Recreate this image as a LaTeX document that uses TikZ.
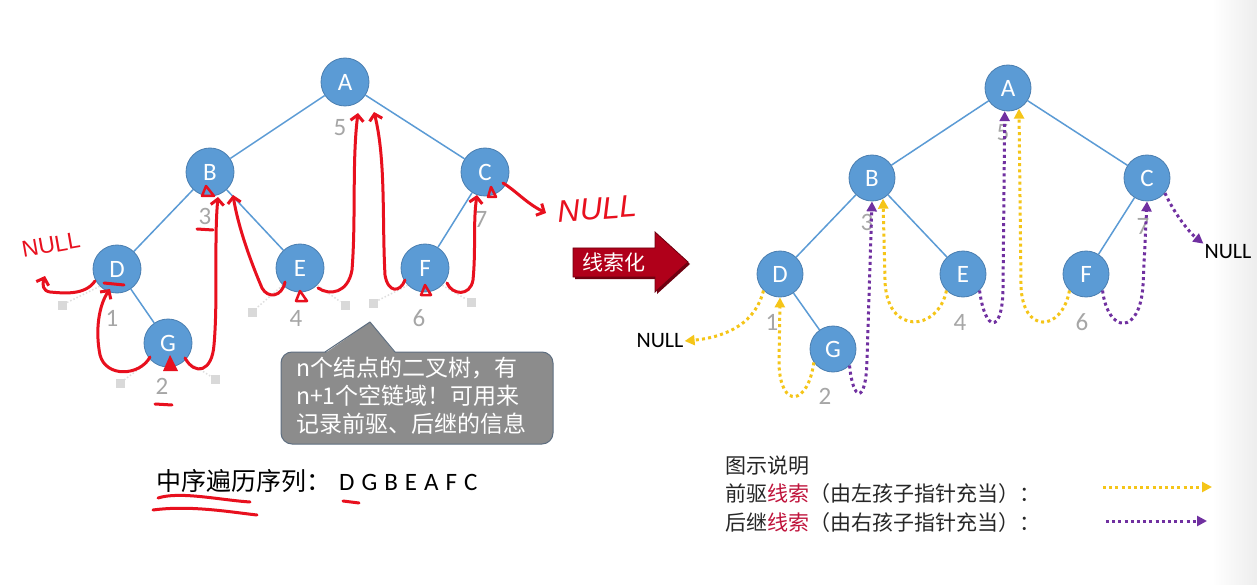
\documentclass[tikz,border=0pt]{standalone}
\usepackage{fontspec}
\setmainfont{Carlito}
\newfontfamily\cjk{Noto Sans CJK SC}
\newfontfamily\hand{Liberation Sans}
\usetikzlibrary{arrows.meta}
\definecolor{nodeblue}{HTML}{5B9BD5}
\definecolor{nodeedge}{HTML}{4A7EB0}
\definecolor{numgray}{HTML}{A6A6A6}
\definecolor{pen}{HTML}{E8101E}
\definecolor{predc}{HTML}{F5C518}
\definecolor{succc}{HTML}{7030A0}
\definecolor{bubblefill}{HTML}{8C8C8C}
\definecolor{bubbleedge}{HTML}{5E6E80}
\definecolor{arrowred}{HTML}{B0001A}
\definecolor{arrowdark}{HTML}{6E0010}
\definecolor{threadred}{HTML}{C0143C}
\definecolor{legtext}{HTML}{262626}
\begin{document}
\begin{tikzpicture}[x=1pt,y=-1pt,
  lnode/.style={circle,fill=nodeblue,draw=nodeedge,line width=0.8pt,minimum size=48pt,inner sep=0pt,text=white,font=\fontsize{25}{25}\selectfont},
  rnode/.style={circle,fill=nodeblue,draw=nodeedge,line width=0.8pt,minimum size=46pt,inner sep=0pt,text=white,font=\fontsize{25}{25}\selectfont},
  treeedge/.style={draw=nodeblue,line width=1.5pt},
  num/.style={text=numgray,font=\fontsize{25}{25}\selectfont,inner sep=0pt},
  stub/.style={rectangle,fill=gray!30,minimum size=9pt,inner sep=0pt},
  stubline/.style={draw=gray!25,line width=1.5pt,dash pattern=on 1.5pt off 2pt},
  penline/.style={draw=pen,line width=3pt,line cap=round,line join=round},
  penarrow/.style={penline,-{Straight Barb[length=6pt,width=13pt,line width=3pt]}},
  pred/.style={draw=predc,line width=3pt,dash pattern=on 3pt off 3.2pt,-{Triangle[length=10pt,width=10pt]}},
  succ/.style={draw=succc,line width=3pt,dash pattern=on 3pt off 3.2pt,-{Triangle[length=10pt,width=10pt]}},
  legfont/.style={font=\cjk\fontsize{21}{21}\selectfont,text=legtext,anchor=base west,inner sep=0pt}
]
\useasboundingbox (0,0) rectangle (1257,585);
\fill[white] (0,0) rectangle (1257,585);
\shade[left color=white,right color=gray!14] (1212,0) rectangle (1257,585);

% ---------- left tree ----------
\node[lnode] (lA) at (345,82) {A};
\node[lnode] (lB) at (210,172) {B};
\node[lnode] (lC) at (485,172) {C};
\node[lnode] (lD) at (117,269) {D};
\node[lnode] (lE) at (300,268) {E};
\node[lnode] (lF) at (425,268) {F};
\node[lnode] (lG) at (168,343) {G};
\draw[treeedge] (lA) -- (lB);
\draw[treeedge] (lA) -- (lC);
\draw[treeedge] (lB) -- (lD);
\draw[treeedge] (lB) -- (lE);
\draw[treeedge] (lC) -- (lF);
\draw[treeedge] (lD) -- (lG);

\node[num] (ln5) at (340,128) {5};
\node[num] (ln3) at (205,216) {3};
\node[num] (ln7) at (481,219) {7};
\node[num] (ln1) at (112,318) {1};
\node[num] (ln4) at (296,318) {4};
\node[num] (ln6) at (419,318) {6};
\node[num] (ln2) at (162,386) {2};

\node[stub] (s1) at (62,305) {};
\node[stub] (s2) at (120,383) {};
\node[stub] (s3) at (215,379) {};
\node[stub] (s4) at (252,312) {};
\node[stub] (s5) at (345,305) {};
\node[stub] (s6) at (373,303) {};
\node[stub] (s7) at (471,302) {};
\draw[stubline] (lD.225) -- (s1);
\draw[stubline] (lG.225) -- (s2);
\draw[stubline] (lG.-45) -- (s3);
\draw[stubline] (lE.225) -- (s4);
\draw[stubline] (lE.-45) -- (s5);
\draw[stubline] (lF.225) -- (s6);
\draw[stubline] (lF.-45) -- (s7);

% speech bubble
\draw[fill=bubblefill,draw=bubbleedge,line width=1pt,rounded corners=11pt] (281,352) rectangle (553,444);
\fill[bubblefill] (324,354) -- (370,322) -- (396,354) -- cycle;
\draw[bubbleedge,line width=1pt,line join=round] (325,352) -- (370,322) -- (395,352);
\node[anchor=north west,align=left,text=white,font=\cjk\fontsize{23}{28}\selectfont,inner sep=0pt] (bubtext) at (296,357)
  {n个结点的二叉树，有\\n+1个空链域！可用来\\记录前驱、后继的信息};

% inorder sequence
\node[anchor=base west,inner sep=0pt,font=\fontsize{25}{25}\selectfont,text=black] (seq) at (156,490)
  {{\cjk 中序遍历序列：}\hspace{8pt}D\hspace{7pt}G\hspace{7pt}B\hspace{7pt}E\hspace{7pt}A\hspace{7pt}F\hspace{7pt}C};

% ---------- red hand annotations ----------
\node[text=pen,font=\hand\fontsize{23}{23}\selectfont,rotate=10,inner sep=0pt] (hnullL) at (51,245) {NULL};
\node[text=pen,font=\hand\itshape\fontsize{31}{31}\selectfont,rotate=4,inner sep=0pt] (hnullR) at (597,209) {NULL};
% D -> NULL
\draw[penarrow] (95,281) .. controls (85,296) and (62,293) .. (50,292) .. controls (43,291) and (42,285) .. (45,276);
% G -> D
\draw[penarrow] (150,357) .. controls (140,376) and (106,378) .. (100,355) .. controls (95,330) and (99,305) .. (110,289);
\draw[penline] (104,283) -- (124,285);
% G -> B
\draw[penarrow] (185,358) .. controls (195,376) and (212,372) .. (214,345) .. controls (218,300) and (214,240) .. (218,197);
% E -> B
\draw[penarrow] (285,282) .. controls (282,297) and (268,299) .. (262,288) .. controls (250,260) and (238,226) .. (233,195);
% E -> A
\draw[penarrow] (318,288) .. controls (330,296) and (348,293) .. (352,270) .. controls (356,220) and (352,160) .. (358,113);
% F -> A
\draw[penarrow] (405,280) .. controls (400,293) and (388,293) .. (385,275) .. controls (382,220) and (386,160) .. (374,112);
% F -> C
\draw[penarrow] (447,283) .. controls (452,295) and (470,297) .. (473,280) .. controls (476,250) and (473,222) .. (477,195);
% C -> NULL
\draw[penarrow] (503,183) .. controls (515,190) and (526,203) .. (546,213);
% small triangles
\draw[penline,line width=2.5pt] (206,186) -- (202,196) -- (214,196) -- cycle;
\draw[penline,line width=2.5pt] (300,291) -- (296,301) -- (307,301) -- cycle;
\draw[penline,line width=2.5pt] (425,285) -- (421,295) -- (431,295) -- cycle;
\draw[penline,line width=2.5pt] (491,187) -- (488,197) -- (496,197) -- cycle;
\fill[pen] (170,355) -- (163,371) -- (178,371) -- cycle;
% underlines
\draw[penline] (197,229) -- (213,230);
\draw[penline] (155,404) -- (172,405);
\draw[penline] (343,501) -- (359,503);
\draw[penline] (158,498) .. controls (180,491) and (220,500) .. (250,502);
\draw[penline] (153,510) .. controls (190,505) and (230,512) .. (257,515);

% ---------- middle arrow ----------
\fill[arrowdark] (575,250) -- (657,250) -- (657,234) -- (690,264) -- (657,294) -- (657,279) -- (575,279) -- cycle;
\draw[fill=arrowred,draw=arrowdark,line width=0.8pt,line join=miter] (573,248) -- (655,248) -- (655,232) -- (688,262) -- (655,292) -- (655,277) -- (573,277) -- cycle;
\node[text=white,font=\cjk\fontsize{21}{21}\selectfont,inner sep=0pt] (xsh) at (614,262) {线索化};

% ---------- right tree ----------
\node[rnode] (rA) at (1008,88) {A};
\node[rnode] (rB) at (872,178) {B};
\node[rnode] (rC) at (1147,178) {C};
\node[rnode] (rD) at (780,274) {D};
\node[rnode] (rE) at (963,274) {E};
\node[rnode] (rF) at (1086,274) {F};
\node[rnode] (rG) at (833,349) {G};
\draw[treeedge] (rA) -- (rB);
\draw[treeedge] (rA) -- (rC);
\draw[treeedge] (rB) -- (rD);
\draw[treeedge] (rB) -- (rE);
\draw[treeedge] (rC) -- (rF);
\draw[treeedge] (rD) -- (rG);

\node[num] (rn5) at (1003,133) {5};
\node[num] (rn3) at (867,222) {3};
\node[num] (rn7) at (1143,226) {7};
\node[num] (rn1) at (772,322) {1};
\node[num] (rn4) at (960,322) {4};
\node[num] (rn6) at (1082,322) {6};
\node[num] (rn2) at (825,396) {2};

\node[font=\fontsize{22}{22}\selectfont,text=black,inner sep=1pt] (nullL) at (660,341) {NULL};
\node[font=\fontsize{22}{22}\selectfont,text=black,inner sep=1pt] (nullR) at (1228,252) {NULL};

% threads
\draw[pred] (rD.225) .. controls (756,322) and (728,337) .. (nullL.east);
\draw[pred] (rG.215) .. controls (808,405) and (781,410) .. (779,365) -- (rD.south);
\draw[succ] (rG.-45) .. controls (853,402) and (866,405) .. (867,360) -- (rB.south);
\draw[pred] (rE.225) .. controls (938,332) and (886,336) .. (885,280) -- (rB.-62);
\draw[succ] (rE.-45) .. controls (985,332) and (1002,335) .. (1003,290) -- (rA.-98);
\draw[pred] (rF.225) .. controls (1062,332) and (1022,335) .. (1021,285) -- (rA.-62);
\draw[succ] (rF.-45) .. controls (1108,334) and (1140,336) .. (1143,285) -- (rC.south);
\draw[succ] (rC.-40) .. controls (1175,215) and (1190,233) .. (nullR.north west);

% ---------- legend ----------
\node[legfont] (lg0) at (725,473) {图示说明};
\node[legfont] (lg1) at (725,501) {前驱{\color{threadred}线索}（由左孩子指针充当）：};
\node[legfont] (lg2) at (725,530) {后继{\color{threadred}线索}（由右孩子指针充当）：};
\coordinate (lg1s) at (1103,487);
\coordinate (lg1e) at (1212,487);
\coordinate (lg2s) at (1106,521);
\coordinate (lg2e) at (1207,521);
\draw[pred] (lg1s) -- (lg1e);
\draw[succ] (lg2s) -- (lg2e);
\end{tikzpicture}
\end{document}
